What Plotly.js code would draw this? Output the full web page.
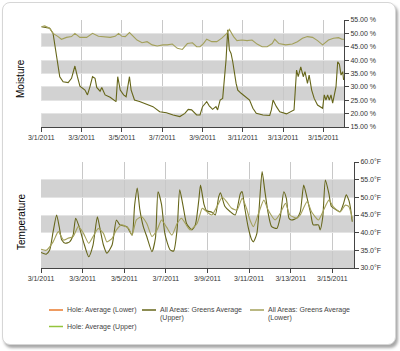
<!DOCTYPE html>
<html>
<head>
<meta charset="utf-8">
<script src="https://cdn.plot.ly/plotly-3.0.1.min.js"></script>
<style>
  html, body { margin:0; padding:0; background:#ffffff; }
  #card { position:absolute; left:2px; top:2px; width:392px; height:341px;
          border:1px solid #d6d6d6; border-radius:8px; background:#fff;
          box-shadow:2px 3px 3px rgba(0,0,0,0.35); }
  #chart { position:absolute; left:0; top:0; width:400px; height:351px; }
</style>
</head>
<body>
<div id="card"></div>
<div id="chart"></div>
<script>
// ---- data (hours after 2011-03-01 00:00, values) ----
var moistUpperHours = [0,4,10,14,16,19,22,26,32,36,40,43,46,52,55,58,61,64,66,70,72,76,82,89,91,94,98,101,105,107,111,117,125,133,141,149,157,165,171,175,179,185,189,192,197,200,204,208,210,213,216,218,220,222,224,226,228,232,234,238,244,248,252,256,264,272,274,276,280,284,292,298,301,304,306,309,312,314,317,319,322,325,329,335,337,339,341,343,345,347,349,351,353,355,357,359,360];
var moistUpper = [52.5,52.3,51.9,50.0,46.0,41.0,33.8,31.9,31.6,33.2,37.8,33.8,30.3,28.8,27.0,30.1,33.8,33.2,29.8,28.4,29.8,27.0,26.1,24.5,33.8,28.8,27.0,26.3,33.8,28.8,25.1,24.5,23.6,22.6,20.7,20.3,19.5,18.9,20.1,21.6,21.4,19.5,19.5,22.6,24.5,22.9,21.6,22.6,21.4,25.1,25.7,33.2,40.0,51.3,43.8,42.5,39.4,31.3,28.8,27.6,26.3,25.1,22.0,20.1,19.5,19.3,21.4,25.1,22.6,20.7,19.9,20.7,21.4,36.3,33.8,37.5,33.8,35.7,31.3,34.4,28.8,25.7,23.2,22.0,27.0,25.1,27.0,25.1,27.0,23.9,27.0,30.1,39.4,38.5,34.4,35.7,32.6];

var moistLowerHours = [0,4,10,14,20,24,30,36,40,46,54,61,68,76,82,88,92,96,100,105,110,114,120,126,132,138,145,150,156,162,168,174,180,185,189,193,197,203,209,215,221,224,229,233,239,245,251,257,263,269,275,278,283,291,299,305,311,317,323,329,335,337,342,348,354,358,361];
var moistLower = [52.5,52.8,51.9,50.0,48.8,47.8,48.5,48.8,50.0,48.5,48.5,50.0,48.9,48.8,48.5,48.9,50.0,48.9,48.8,50.3,48.8,47.5,46.5,46.9,45.7,45.3,45.7,45.7,46.0,44.4,44.0,46.2,46.5,45.0,45.0,46.2,47.8,46.9,46.9,48.2,50.0,51.5,48.8,47.3,47.5,47.3,47.5,46.0,45.0,45.0,46.2,47.8,46.2,45.7,46.0,46.9,48.2,48.8,48.5,47.3,45.7,46.2,47.5,48.2,48.4,47.8,47.8];

var tempUpperHours = [0,6,10,14,18,21,24,28,33,37,40,44,49,55,60,65,68,72,76,82,87,91,99,105,108,111,114,118,122,128,132,135,139,143,149,153,157,160,164,168,174,178,182,184,188,191,197,201,205,207,212,218,224,230,232,235,239,243,245,249,255,258,262,266,272,276,280,283,286,289,295,299,303,307,311,314,320,322,325,328,332,335,341,345,349,352,355,357,359];
var tempUpper = [34.4,33.9,35.1,40.3,45.0,41.7,37.9,37.0,37.4,39.3,44.1,41.7,37.4,33.2,36.5,44.5,41.2,36.5,34.2,36.5,43.6,42.2,41.7,39.3,47.8,52.6,46.5,41.7,38.9,34.6,38.5,51.6,48.0,39.5,35.1,34.8,41.0,52.1,47.4,42.5,40.8,42.2,49.2,53.5,48.0,46.2,45.8,45.0,50.2,51.3,47.5,46.0,45.0,51.1,51.6,47.0,41.5,38.0,37.4,39.8,57.3,52.1,45.5,41.7,41.2,44.5,51.6,49.7,44.1,43.6,44.1,45.9,53.5,49.7,45.5,42.2,42.2,40.8,44.5,54.9,51.1,47.4,46.4,45.9,48.3,50.7,49.2,46.9,43.1];

var tempLowerHours = [0,6,14,20,26,31,37,43,49,55,60,66,72,76,82,87,93,101,105,110,116,122,128,134,139,145,151,157,162,168,172,180,186,189,197,203,209,214,220,226,232,237,241,245,251,257,262,270,276,282,287,295,299,307,312,320,326,332,337,345,351,355,359];
var tempLower = [35.3,35.0,37.4,40.3,37.9,38.4,38.9,41.7,39.8,37.0,38.9,41.2,39.8,37.4,38.4,40.8,42.2,41.2,39.3,43.6,44.5,42.6,38.9,40.8,43.6,41.5,39.3,42.6,44.1,42.0,40.8,42.6,46.9,46.4,45.0,47.4,50.0,48.8,46.9,46.4,49.7,46.9,43.6,41.7,45.5,49.2,46.4,43.6,45.5,48.3,45.0,44.1,45.0,48.8,45.9,43.6,46.4,49.2,47.4,45.9,47.8,47.4,44.1];

// Hole series have no readings in this period
var holeLowerHours = [], holeLower = [];
var holeUpperHours = [], holeUpper = [];

var seriesNames = ['Hole: Average (Lower)', 'All Areas: Greens Average (Upper)', 'All Areas: Greens Average (Lower)', 'Hole: Average (Upper)'];
var seriesColors = ['#e87a2c', '#66661a', '#a3a05a', '#94c43c'];
// legend label lines (as shown, wrapped)
var legendLines = [['Hole: Average (Lower)'], ['All Areas: Greens Average', '(Upper)'], ['All Areas: Greens Average', '(Lower)'], ['Hole: Average (Upper)']];

var moistBands = [[15,20],[25,30],[35,40],[45,50]];
var tempBands = [[30,35],[40,45],[50,55]];

// ---- helpers ----
var START = Date.UTC(2011, 2, 1);
function pad(n){ return (n < 10 ? '0' : '') + n; }
function toDate(h){
  var d = new Date(START + h * 3600000);
  return d.getUTCFullYear() + '-' + pad(d.getUTCMonth()+1) + '-' + pad(d.getUTCDate()) + ' ' + pad(d.getUTCHours()) + ':' + pad(d.getUTCMinutes());
}

var traces = [
  {name: seriesNames[0], x: holeLowerHours.map(toDate), y: holeLower, type:'scatter', mode:'lines', line:{color:seriesColors[0], width:1}, xaxis:'x', yaxis:'y'},
  {name: seriesNames[1], x: moistUpperHours.map(toDate), y: moistUpper, type:'scatter', mode:'lines', line:{color:seriesColors[1], width:1.1}, xaxis:'x', yaxis:'y'},
  {name: seriesNames[2], x: moistLowerHours.map(toDate), y: moistLower, type:'scatter', mode:'lines', line:{color:seriesColors[2], width:1.1}, xaxis:'x', yaxis:'y'},
  {name: seriesNames[3], x: holeUpperHours.map(toDate), y: holeUpper, type:'scatter', mode:'lines', line:{color:seriesColors[3], width:1}, xaxis:'x', yaxis:'y'},
  {name: seriesNames[0], x: holeLowerHours.map(toDate), y: holeLower, type:'scatter', mode:'lines', line:{color:seriesColors[0], width:1}, xaxis:'x2', yaxis:'y2'},
  {name: seriesNames[1], x: tempUpperHours.map(toDate), y: tempUpper, type:'scatter', mode:'lines', line:{color:seriesColors[1], width:1.1, shape:'spline', smoothing:0.6}, xaxis:'x2', yaxis:'y2'},
  {name: seriesNames[2], x: tempLowerHours.map(toDate), y: tempLower, type:'scatter', mode:'lines', line:{color:seriesColors[2], width:1.1, shape:'spline', smoothing:0.6}, xaxis:'x2', yaxis:'y2'},
  {name: seriesNames[3], x: holeUpperHours.map(toDate), y: holeUpper, type:'scatter', mode:'lines', line:{color:seriesColors[3], width:1}, xaxis:'x2', yaxis:'y2'}
];

var W = 400, H = 351;
function fx(px){ return px / W; }
function fy(py){ return 1 - py / H; }

var shapes = [];
moistBands.forEach(function(b){
  shapes.push({type:'rect', xref:'x domain', yref:'y', x0:0, x1:1, y0:b[0], y1:b[1], fillcolor:'#d2d2d2', line:{width:0}, layer:'below'});
});
tempBands.forEach(function(b){
  shapes.push({type:'rect', xref:'x2 domain', yref:'y2', x0:0, x1:1, y0:b[0], y1:b[1], fillcolor:'#d2d2d2', line:{width:0}, layer:'below'});
});

// ---- legend (drawn as line shapes + text) ----
var legendPos = [[49, 310], [142, 310], [250, 310], [49, 326.5]];
var annotations = [
  {text:'Moisture', xref:'paper', yref:'paper', x:fx(21), y:fy(79), textangle:-90, showarrow:false,
   font:{size:10, color:'#000'}, xanchor:'center', yanchor:'middle'},
  {text:'Temperature', xref:'paper', yref:'paper', x:fx(21), y:fy(222), textangle:-90, showarrow:false,
   font:{size:10, color:'#000'}, xanchor:'center', yanchor:'middle'}
];
legendPos.forEach(function(p, i){
  shapes.push({type:'line', xref:'paper', yref:'paper', x0:fx(p[0]), x1:fx(p[0]+14), y0:fy(p[1]), y1:fy(p[1]),
    line:{color:seriesColors[i], width:1.5}});
  legendLines[i].forEach(function(t, j){
    annotations.push({text:t, xref:'paper', yref:'paper', x:fx(p[0]+16), y:fy(p[1] + j*7.8), xanchor:'left', yanchor:'middle',
      showarrow:false, font:{size:7, color:'#444'}});
  });
});

var xCommon = {type:'date', tick0:'2011-03-01', dtick:172800000, tickformat:'%-m/%-d/%Y',
  ticks:'outside', ticklen:4, tickcolor:'#444', showline:true, linecolor:'#444', linewidth:1,
  showgrid:true, gridcolor:'#c8c8c8', zeroline:false, tickfont:{size:7, color:'#333'}, fixedrange:true};
var yCommon = {side:'right', ticks:'outside', ticklen:4, tickcolor:'#444', showline:true, linecolor:'#444', linewidth:1,
  showgrid:true, gridcolor:'#e4e4e4', zeroline:false, dtick:5, tickfont:{size:7, color:'#333'}, fixedrange:true};

var layout = {
  width: W, height: H,
  margin: {l:0, r:0, t:0, b:0},
  paper_bgcolor: 'rgba(0,0,0,0)',
  plot_bgcolor: 'rgba(0,0,0,0)',
  font: {family:'"Liberation Sans", Arial, sans-serif', size:7, color:'#333'},
  showlegend: false,
  xaxis: Object.assign({}, xCommon, {domain:[fx(41.3), fx(344)], anchor:'y', range:['2011-03-01 00:00','2011-03-16 00:30']}),
  yaxis: Object.assign({}, yCommon, {domain:[fy(127), fy(20)], anchor:'x', range:[15,55], tickformat:'.2f', ticksuffix:' %'}),
  xaxis2: Object.assign({}, xCommon, {domain:[fx(41), fx(354)], anchor:'y2', range:['2011-03-01 00:00','2011-03-16 01:00']}),
  yaxis2: Object.assign({}, yCommon, {domain:[fy(268), fy(162)], anchor:'x2', range:[30,60], tickformat:'.1f', ticksuffix:'°F'}),
  shapes: shapes,
  annotations: annotations
};

Plotly.newPlot('chart', traces, layout, {displayModeBar:false, staticPlot:true});
</script>
</body>
</html>
